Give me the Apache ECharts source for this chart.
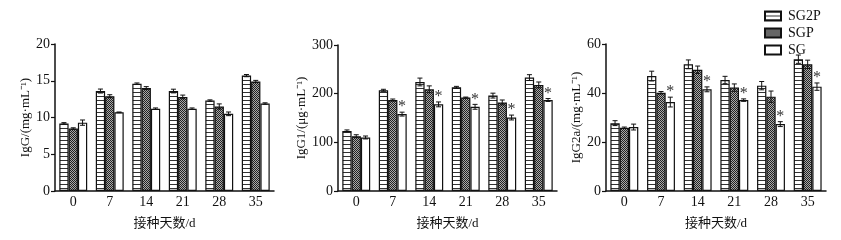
<!DOCTYPE html>
<html>
<head>
<meta charset="utf-8">
<script src="https://cdn.jsdelivr.net/npm/echarts@6/dist/echarts.min.js"></script>
<style>html,body{margin:0;padding:0;background:#fff}#c{width:841px;height:240px}</style>
</head>
<body>
<div id="c"></div>
<script>
// ---- data ----
const days = ['0', '7', '14', '21', '28', '35'];
const groups = ['SG2P', 'SGP', 'SG'];

const igg_SG2P = [9.2, 13.6, 14.6, 13.6, 12.3, 15.7];
const igg_SG2P_err = [0.1, 0.27, 0.1, 0.25, 0.1, 0.15];
const igg_SGP = [8.5, 12.9, 14.0, 12.8, 11.5, 14.9];
const igg_SGP_err = [0.1, 0.2, 0.2, 0.25, 0.35, 0.15];
const igg_SG = [9.3, 10.7, 11.2, 11.2, 10.5, 11.9];
const igg_SG_err = [0.36, 0.05, 0.1, 0.1, 0.25, 0.1];
const igg_star = [0, 0, 0, 0, 0, 0];

const igg1_SG2P = [123.5, 207, 224, 213, 196, 233];
const igg1_SG2P_err = [2, 2, 8, 2, 5, 6];
const igg1_SGP = [112.6, 187, 209, 192, 182, 218];
const igg1_SGP_err = [3, 2, 7, 1, 5, 6];
const igg1_SG = [110, 158, 178, 173, 151, 187];
const igg1_SG_err = [3, 4, 5, 5, 5, 3];
const igg1_star = [0, 1, 1, 1, 1, 1];

const igg2a_SG2P = [27.7, 46.9, 51.7, 45.3, 43.0, 53.8];
const igg2a_SG2P_err = [1, 2, 1.8, 1.5, 1.7, 1.7];
const igg2a_SGP = [25.8, 40.1, 49.5, 42.2, 38.5, 51.7];
const igg2a_SGP_err = [0.3, 0.5, 1.5, 1.5, 2.3, 1.7];
const igg2a_SG = [26.1, 36.3, 41.5, 37.1, 27.3, 42.6];
const igg2a_SG_err = [1.2, 2, 1, 0.5, 1, 1.5];
const igg2a_star = [0, 1, 1, 1, 1, 1];

const yNames = ['IgG/(mg\u00B7mL\u207B\u00B9)', 'IgG1/(\u03BCg\u00B7mL\u207B\u00B9)', 'IgG2a/(mg\u00B7mL\u207B\u00B9)'];
const yMax = [20, 300, 60];
const yInterval = [5, 100, 20];
const xName = '接种天数/d';

// ---- styles ----
function makePattern(type) {
  const c = document.createElement('canvas');
  if (type === 'stripe') {
    c.width = 4; c.height = 4;
    const g = c.getContext('2d');
    g.fillStyle = '#fff'; g.fillRect(0, 0, 4, 4);
    g.fillStyle = '#333'; g.fillRect(0, 0, 4, 1);
  } else {
    c.width = 2; c.height = 2;
    const g = c.getContext('2d');
    g.fillStyle = '#aaa'; g.fillRect(0, 0, 2, 2);
    g.fillStyle = '#222'; g.fillRect(0, 0, 1, 1); g.fillRect(1, 1, 1, 1);
  }
  return { image: c, repeat: 'repeat' };
}
const fills = [makePattern('stripe'), makePattern('check'), '#ffffff'];
const FONT = "'Liberation Serif', 'Noto Sans CJK SC', serif";
const BW = 9.3;
const offsets = [-BW, 0, BW];

const panels = [
  { vals: [igg_SG2P, igg_SGP, igg_SG], errs: [igg_SG2P_err, igg_SGP_err, igg_SG_err], star: igg_star },
  { vals: [igg1_SG2P, igg1_SGP, igg1_SG], errs: [igg1_SG2P_err, igg1_SGP_err, igg1_SG_err], star: igg1_star },
  { vals: [igg2a_SG2P, igg2a_SGP, igg2a_SG], errs: [igg2a_SG2P_err, igg2a_SGP_err, igg2a_SG_err], star: igg2a_star }
];
const gridPos = [
  { left: 55, top: 44, width: 219, height: 147 },
  { left: 338, top: 45, width: 219, height: 146 },
  { left: 606, top: 44, width: 220, height: 147 }
];
const nameGaps = [22, 27, 23];

const grid = [], xAxis = [], yAxis = [], series = [];
panels.forEach((p, pi) => {
  grid.push(gridPos[pi]);
  xAxis.push({
    type: 'category', gridIndex: pi, data: days,
    name: xName, nameLocation: 'middle', nameGap: 26,
    nameTextStyle: { fontFamily: FONT, fontSize: 13, color: '#111' },
    axisLine: { lineStyle: { color: '#111', width: 1.5 } },
    axisTick: { show: false },
    axisLabel: { fontFamily: FONT, fontSize: 14, color: '#111', margin: 4 }
  });
  yAxis.push({
    type: 'value', gridIndex: pi, min: 0, max: yMax[pi], interval: yInterval[pi],
    name: yNames[pi], nameLocation: 'middle', nameGap: nameGaps[pi], nameRotate: 90,
    nameTextStyle: { fontFamily: FONT, fontSize: 13, color: '#111' },
    axisLine: { show: true, lineStyle: { color: '#111', width: 1.5 } },
    axisTick: { show: true, length: 4, lineStyle: { color: '#111', width: 1.2 } },
    axisLabel: { fontFamily: FONT, fontSize: 14, color: '#111', margin: 5 },
    splitLine: { show: false }
  });
  groups.forEach((g, gi) => {
    series.push({
      name: g, type: 'bar', xAxisIndex: pi, yAxisIndex: pi,
      data: p.vals[gi], barWidth: BW, barGap: '0%',
      itemStyle: { color: fills[gi], borderColor: '#111', borderWidth: 1.2 },
      silent: true, animation: false
    });
  });
  groups.forEach((g, gi) => {
    const data = days.map((d, i) => [i, p.vals[gi][i], p.errs[gi][i], gi === 2 ? p.star[i] : 0]);
    series.push({
      type: 'custom', xAxisIndex: pi, yAxisIndex: pi, data: data, silent: true, animation: false, z: 5,
      renderItem: function (params, api) {
        const i = api.value(0), v = api.value(1), e = api.value(2), s = api.value(3);
        const top = api.coord([i, v + e]);
        const bot = api.coord([i, v - e]);
        const x = top[0] + offsets[gi];
        const cap = 2.5;
        const children = [
          { type: 'line', shape: { x1: x, y1: top[1], x2: x, y2: bot[1] }, style: { stroke: '#111', lineWidth: 1 } },
          { type: 'line', shape: { x1: x - cap, y1: top[1], x2: x + cap, y2: top[1] }, style: { stroke: '#111', lineWidth: 1 } },
          { type: 'line', shape: { x1: x - cap, y1: bot[1], x2: x + cap, y2: bot[1] }, style: { stroke: '#111', lineWidth: 1 } }
        ];
        if (s) {
          children.push({ type: 'text', style: { text: '*', x: x, y: top[1] + 3, textAlign: 'center', textVerticalAlign: 'bottom', font: "16px 'Liberation Serif'", fill: '#333' } });
        }
        return { type: 'group', children: children };
      }
    });
  });
});

const chart = echarts.init(document.getElementById('c'), null, { renderer: 'canvas' });
chart.setOption({
  animation: false,
  backgroundColor: '#fff',
  grid: grid, xAxis: xAxis, yAxis: yAxis, series: series,
  legend: {
    data: groups, orient: 'vertical', left: 764, top: 9, padding: 0,
    itemWidth: 16, itemHeight: 9, itemGap: 3, icon: 'rect',
    textStyle: { fontFamily: FONT, fontSize: 14, color: '#111', padding: [0, 0, 0, 2] }
  }
});
</script>
</body>
</html>
